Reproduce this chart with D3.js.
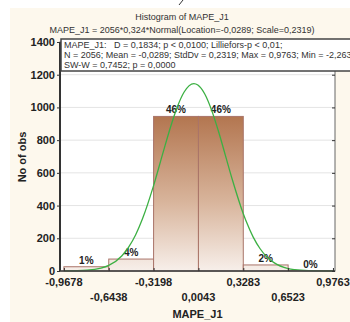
<!DOCTYPE html>
<html>
<head>
<meta charset="utf-8">
<script src="https://cdn.jsdelivr.net/npm/d3@7"></script>
<style>
  body { margin: 0; background: #fff; }
  svg { display: block; font-family: Arial, "Liberation Sans", sans-serif; }
</style>
</head>
<body>
<div id="wrapper"></div>
<script>
// bin edges and counts
const binEdges = [-0.9678, -0.6438, -0.3198, 0.0043, 0.3283, 0.6523, 0.9763];
const binCounts = [26, 73, 945, 945, 37, 3];
const binLabels = ["1%", "4%", "46%", "46%", "2%", "0%"];
const yTicks = [0, 200, 400, 600, 800, 1000, 1200, 1400];

// fitted normal curve
const curveX = [-0.9678, -0.8, -0.7, -0.6438, -0.55, -0.5, -0.45, -0.4, -0.3198, -0.25, -0.2, -0.15, -0.1, -0.0289, 0.0, 0.05, 0.1, 0.15, 0.2, 0.25, 0.3283, 0.35, 0.4, 0.45, 0.5, 0.55, 0.6523, 0.7, 0.8, 0.9763];
const curveY = [0.3, 4.5, 17, 34, 92, 146, 220, 319, 522, 728, 873, 1000, 1093, 1146, 1137, 1082, 982, 851, 704, 556, 350, 302, 207, 136, 85, 51, 15, 8, 2, 0];

const titleText = "Histogram of MAPE_J1";
const subtitleText = "MAPE_J1 = 2056*0,324*Normal(Location=-0,0289; Scale=0,2319)";
const statLines = [
    "MAPE_J1:   D = 0,1834; p < 0,0100; Lilliefors-p < 0,01;",
    "N = 2056; Mean = -0,0289; StdDv = 0,2319; Max = 0,9763; Min = -2,2638",
    "SW-W = 0,7452; p = 0,0000"
];

const dimension = {
    width: 350,
    height: 322,
    margin: { top: 42, left: 60, bottom: 51, right: 15 }
};
dimension.boundedWidth = dimension.width - dimension.margin.left - dimension.margin.right;
dimension.boundedHeight = dimension.height - dimension.margin.top - dimension.margin.bottom;

// comma decimals, plain hyphen for minus
const fmt = (v) => (v < 0 ? "-" : "") + Math.abs(v).toFixed(4).replace(".", ",");

const svg = d3.select("#wrapper").append("svg")
    .attr("width", dimension.width)
    .attr("height", dimension.height);

// beige page background
svg.append("rect")
    .attr("x", 10).attr("y", 8)
    .attr("width", 340).attr("height", 314)
    .attr("fill", "#fdf8ed");

// stray mark at the very top
svg.append("path")
    .attr("d", "M183,0 L179,5")
    .attr("stroke", "#333").attr("stroke-width", 1).attr("fill", "none");

const bounded = svg.append("g")
    .attr("transform", `translate(${dimension.margin.left},${dimension.margin.top})`);

const xScaler = d3.scaleLinear()
    .domain([-0.996, 0.991])
    .range([0, dimension.boundedWidth]);

const yScaler = d3.scaleLinear()
    .domain([0, 1400])
    .range([dimension.boundedHeight, 0]);

// plot background
bounded.append("rect")
    .attr("width", dimension.boundedWidth)
    .attr("height", dimension.boundedHeight)
    .attr("fill", "#fff");

// gridlines
bounded.selectAll(".grid")
    .data(yTicks.slice(1))
    .join("line")
    .attr("x1", 0).attr("x2", dimension.boundedWidth)
    .attr("y1", d => yScaler(d)).attr("y2", d => yScaler(d))
    .attr("stroke", "#e4e4e4").attr("stroke-width", 1);

// gradient shared across bars
const defs = svg.append("defs");
const grad = defs.append("linearGradient")
    .attr("id", "barGrad")
    .attr("gradientUnits", "userSpaceOnUse")
    .attr("x1", 0).attr("x2", 0)
    .attr("y1", yScaler(945)).attr("y2", yScaler(0));
grad.append("stop").attr("offset", "0%").attr("stop-color", "#b37650");
grad.append("stop").attr("offset", "55%").attr("stop-color", "#d8b49b");
grad.append("stop").attr("offset", "100%").attr("stop-color", "#f7efea");

const bins = binCounts.map((c, i) => ({ x0: binEdges[i], x1: binEdges[i + 1], count: c, label: binLabels[i] }));

bounded.selectAll(".bar")
    .data(bins)
    .join("rect")
    .attr("x", d => xScaler(d.x0))
    .attr("width", d => xScaler(d.x1) - xScaler(d.x0))
    .attr("y", d => yScaler(d.count))
    .attr("height", d => yScaler(0) - yScaler(d.count))
    .attr("fill", "url(#barGrad)")
    .attr("stroke", "#a97469")
    .attr("stroke-width", 1);

bounded.selectAll(".pct")
    .data(bins)
    .join("text")
    .attr("x", d => (xScaler(d.x0) + xScaler(d.x1)) / 2)
    .attr("y", d => yScaler(d.count) - 3)
    .attr("text-anchor", "middle")
    .attr("font-size", 10)
    .attr("font-weight", "bold")
    .attr("fill", "#222")
    .text(d => d.label);

// normal curve
const lineGenerator = d3.line()
    .x(d => xScaler(d[0]))
    .y(d => yScaler(d[1]))
    .curve(d3.curveMonotoneX);

bounded.append("path")
    .datum(curveX.map((x, i) => [x, curveY[i]]))
    .attr("d", lineGenerator)
    .attr("fill", "none")
    .attr("stroke", "#3cb043")
    .attr("stroke-width", 1.3);

// frame
bounded.append("rect")
    .attr("width", dimension.boundedWidth)
    .attr("height", dimension.boundedHeight)
    .attr("fill", "none")
    .attr("stroke", "#666")
    .attr("stroke-width", 1);
bounded.append("line")
    .attr("x1", 0).attr("x2", 0).attr("y1", 0).attr("y2", dimension.boundedHeight)
    .attr("stroke", "#333").attr("stroke-width", 2);
bounded.append("line")
    .attr("x1", 0).attr("x2", dimension.boundedWidth)
    .attr("y1", dimension.boundedHeight).attr("y2", dimension.boundedHeight)
    .attr("stroke", "#444").attr("stroke-width", 1.5);

// y axis
const yAxis = d3.axisLeft(yScaler).tickValues(yTicks).tickSize(3).tickPadding(2)
    .tickFormat(d3.format("d"));
const yAxisG = bounded.append("g").call(yAxis);
yAxisG.select(".domain").remove();
yAxisG.selectAll("text").attr("font-size", 11).attr("font-weight", "bold").attr("fill", "#222")
    .attr("font-family", "Arial, 'Liberation Sans', sans-serif");
yAxisG.selectAll("line").attr("stroke", "#333");

// right ticks
const yAxisR = d3.axisRight(yScaler).tickValues(yTicks).tickSize(-3).tickFormat("");
const yAxisRG = bounded.append("g").attr("transform", `translate(${dimension.boundedWidth},0)`).call(yAxisR);
yAxisRG.select(".domain").remove();
yAxisRG.selectAll("line").attr("stroke", "#333");

// x axis, staggered labels
const xAxis = d3.axisBottom(xScaler).tickValues(binEdges).tickSize(-3).tickFormat("");
const xAxisG = bounded.append("g").attr("transform", `translate(0,${dimension.boundedHeight})`).call(xAxis);
xAxisG.select(".domain").remove();
xAxisG.selectAll("line").attr("stroke", "#333");

bounded.selectAll(".xlab")
    .data(binEdges)
    .join("text")
    .attr("x", d => xScaler(d))
    .attr("y", (d, i) => dimension.boundedHeight + (i % 2 === 0 ? 15 : 30))
    .attr("text-anchor", "middle")
    .attr("font-size", 11)
    .attr("font-weight", "bold")
    .attr("fill", "#222")
    .text(d => fmt(d));

// axis titles
svg.append("text")
    .attr("x", dimension.margin.left + dimension.boundedWidth / 2)
    .attr("y", 318)
    .attr("text-anchor", "middle")
    .attr("font-size", 11)
    .attr("font-weight", "bold")
    .attr("fill", "#222")
    .text("MAPE_J1");

svg.append("text")
    .attr("transform", "translate(26,157) rotate(-90)")
    .attr("text-anchor", "middle")
    .attr("font-size", 11)
    .attr("font-weight", "bold")
    .attr("fill", "#222")
    .text("No of obs");

// titles
svg.append("text")
    .attr("x", 182).attr("y", 20)
    .attr("text-anchor", "middle")
    .attr("font-size", 9)
    .attr("fill", "#333")
    .text(titleText);
svg.append("text")
    .attr("x", 182).attr("y", 33)
    .attr("text-anchor", "middle")
    .attr("font-size", 9)
    .attr("fill", "#333")
    .text(subtitleText);

// statistics box
const box = svg.append("g").attr("transform", "translate(61,39)");
box.append("rect")
    .attr("width", 300).attr("height", 32)
    .attr("fill", "#fff")
    .attr("stroke", "#444")
    .attr("stroke-width", 1.5);
box.selectAll("text")
    .data(statLines)
    .join("text")
    .attr("x", 3)
    .attr("y", (d, i) => 9 + i * 10)
    .attr("font-size", 9)
    .attr("fill", "#333")
    .attr("xml:space", "preserve")
    .style("white-space", "pre")
    .text(d => d);
</script>
</body>
</html>
